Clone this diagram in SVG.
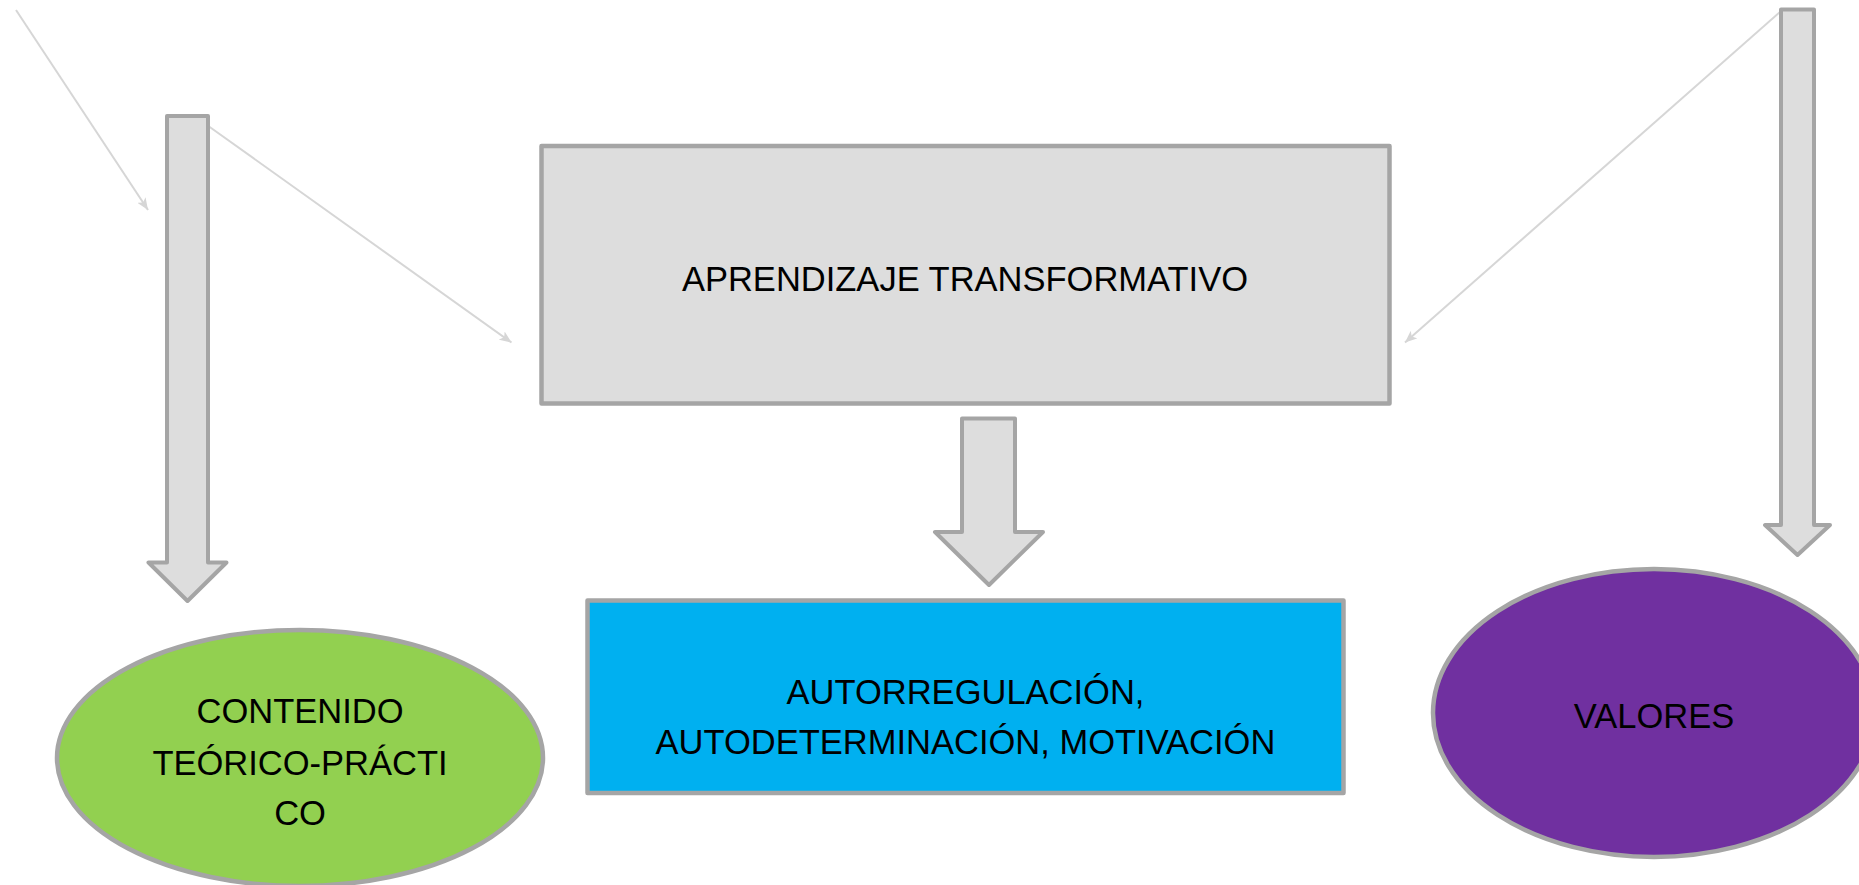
<svg xmlns="http://www.w3.org/2000/svg" width="1859" height="885" viewBox="0 0 1859 885">
<defs>
<style>
.block{fill:#dddddd;stroke:#a5a5a5;stroke-width:4;stroke-linejoin:round}
.conn{stroke:#d6d6d6;stroke-width:2;fill:none}
.lbl{font-family:"Liberation Sans",Arial,sans-serif;font-size:34.5px;fill:#000;text-anchor:middle}
</style>
<marker id="ah" viewBox="0 0 12 10" refX="12" refY="5" markerWidth="12" markerHeight="10" markerUnits="userSpaceOnUse" orient="auto">
<path d="M0,0 L12,5 L0,10 L3,5 z" fill="#d6d6d6"/>
</marker>
</defs>
<rect width="1859" height="885" fill="#ffffff"/>
<g id="connectors">
<line class="conn" x1="16" y1="10" x2="148" y2="210" marker-end="url(#ah)"/>
<line class="conn" x1="209" y1="126.5" x2="511.5" y2="342.5" marker-end="url(#ah)"/>
<line class="conn" x1="1780" y1="12" x2="1405" y2="342.5" marker-end="url(#ah)"/>
</g>
<g id="arrow-left">
<path class="block" d="M167,116 L208,116 L208,562.5 L226.5,562.5 L187.5,601 L148.5,562.5 L167,562.5 Z"/>
</g>
<g id="arrow-middle">
<path class="block" d="M962,418.5 L1015,418.5 L1015,532 L1043,532 L989,585 L935,532 L962,532 Z"/>
</g>
<g id="arrow-right">
<path class="block" d="M1781,9.5 L1814,9.5 L1814,525 L1830,525 L1797.5,555 L1765,525 L1781,525 Z"/>
</g>
<g id="node-aprendizaje">
<rect x="541.5" y="146" width="848" height="257.5" fill="#dddddd" stroke="#a5a5a5" stroke-width="4.5" stroke-linejoin="round"/>
<text class="lbl" x="965" y="290.5">APRENDIZAJE TRANSFORMATIVO</text>
</g>
<g id="node-autorregulacion">
<rect x="587.5" y="600.5" width="756" height="192.5" fill="#00b0f0" stroke="#a5a5a5" stroke-width="4.5" stroke-linejoin="round"/>
<text class="lbl" x="965.5" y="704">AUTORREGULACIÓN,</text>
<text class="lbl" x="965.5" y="754">AUTODETERMINACIÓN, MOTIVACIÓN</text>
</g>
<g id="node-contenido">
<ellipse cx="300" cy="758" rx="243" ry="128" fill="#92d050" stroke="#a5a5a5" stroke-width="4.5"/>
<text class="lbl" x="300" y="722.5">CONTENIDO</text>
<text class="lbl" x="300" y="775">TEÓRICO-PRÁCTI</text>
<text class="lbl" x="300" y="825">CO</text>
</g>
<g id="node-valores">
<ellipse cx="1654" cy="713" rx="221" ry="144" fill="#7030a0" stroke="#a5a5a5" stroke-width="4.5"/>
<text class="lbl" x="1654" y="728">VALORES</text>
</g>
</svg>
